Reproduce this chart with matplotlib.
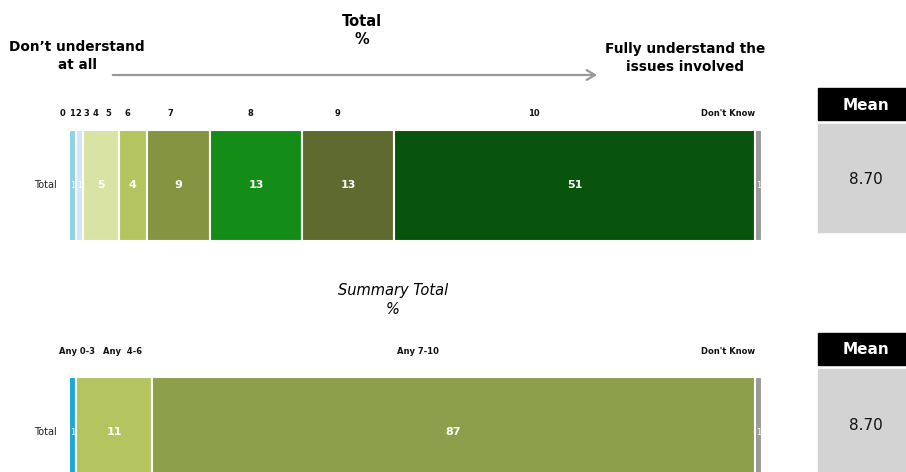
import matplotlib
matplotlib.use("Agg")
import matplotlib.pyplot as plt
from matplotlib.patches import Rectangle, FancyArrowPatch

# data
top_categories = ['0', '1', '2', '3', '4', '5', '6', '7', '8', '9', '10', "Don't Know"]
top_values = [1, 1, 0, 0, 0, 5, 4, 9, 13, 13, 51, 1]
top_colors = ['#8ED2E4', '#D5E5F4', '#C9DDF0', '#C9DDF0', '#E3ECC0', '#D9E4A4',
              '#B4C55F', '#859440', '#138D17', '#5E6A2E', '#08540C', '#9A9A9A']

sum_categories = ['Any 0-3', 'Any  4-6', 'Any 7-10', "Don't Know"]
sum_values = [1, 11, 87, 1]
sum_colors = ['#1DA6D8', '#B4C55F', '#8C9F4A', '#9A9A9A']

row_label = 'Total'
mean_top = 8.70
mean_sum = 8.70

# header label positions (axes fraction) - layout only
top_label_x = [-0.009, 0.004, 0.013, 0.025, 0.038, 0.056, 0.085, 0.146, 0.262, 0.388, 0.671, 0.99]
sum_label_x = [0.011, 0.078, 0.503, 0.99]

W, H = 906, 472
fig = plt.figure(figsize=(W / 100, H / 100), dpi=100)


def px_axes(x0, y0, x1, y1):
    return fig.add_axes([x0 / W, 1 - y1 / H, (x1 - x0) / W, (y1 - y0) / H])


def stacked(ax, values, colors, cats, label_x, label_y):
    left = 0
    for v, c in zip(values, colors):
        if v > 0:
            ax.barh(0, v, left=left, height=1, color=c, edgecolor='white', linewidth=1.5)
            ax.text(left + v / 2, 0, str(v), color='white', ha='center', va='center',
                    fontsize=8 if v > 1 else 6, fontweight='bold' if v > 1 else 'normal')
        left += v
    ax.set_xlim(0, sum(values))
    ax.set_ylim(-0.5, 0.5)
    ax.axis('off')
    for cat, lx in zip(cats, label_x):
        ha = 'right' if cat == "Don't Know" else 'center'
        ax.text(lx, label_y, cat, transform=ax.transAxes, ha=ha, va='center',
                fontsize=6, fontweight='bold', color='#111111')
    ax.text(-0.018, 0.5, row_label, transform=ax.transAxes, ha='right', va='center',
            fontsize=7, color='#222222')


ax1 = px_axes(69, 130, 762, 241)
stacked(ax1, top_values, top_colors, top_categories, top_label_x, 1.15)

ax2 = px_axes(69, 377, 762, 488)
stacked(ax2, sum_values, sum_colors, sum_categories, sum_label_x, 1.23)

# titles
fig.text(362 / W, 1 - 21 / H, 'Total', ha='center', va='center', fontsize=10.5, fontweight='bold')
fig.text(362 / W, 1 - 40 / H, '%', ha='center', va='center', fontsize=10.5, fontweight='bold')
fig.text(393 / W, 1 - 291 / H, 'Summary Total', ha='center', va='center', fontsize=10.5, style='italic')
fig.text(393 / W, 1 - 310 / H, '%', ha='center', va='center', fontsize=10.5, style='italic')

fig.text(77 / W, 1 - 56 / H, "Don\u2019t understand\nat all", ha='center', va='center',
         fontsize=9.8, fontweight='bold', linespacing=1.3)
fig.text(685 / W, 1 - 58 / H, "Fully understand the\nissues involved", ha='center', va='center',
         fontsize=9.8, fontweight='bold', linespacing=1.3)

fig.add_artist(FancyArrowPatch(
    (110 / W, 1 - 75 / H), (600 / W, 1 - 75 / H), transform=fig.transFigure,
    arrowstyle='->,head_length=6,head_width=3.5', color='#999999', lw=1.6))

# mean boxes
for head_y, box_y0, box_y1, m in [(88, 124, 232, mean_top), (333, 369, 480, mean_sum)]:
    fig.add_artist(Rectangle((818 / W, 1 - (head_y + 32) / H), 88 / W, 32 / H,
                             transform=fig.transFigure, color='black'))
    fig.text(866 / W, 1 - (head_y + 17) / H, 'Mean', ha='center', va='center',
             color='white', fontsize=11, fontweight='bold')
    fig.add_artist(Rectangle((818 / W, 1 - box_y1 / H), 88 / W, (box_y1 - box_y0) / H,
                             transform=fig.transFigure, color='#D3D3D3'))
    fig.text(866 / W, 1 - (box_y0 + 56) / H, f'{m:.2f}', ha='center', va='center',
             color='#111111', fontsize=11)

fig.savefig('out.png', dpi=100)
